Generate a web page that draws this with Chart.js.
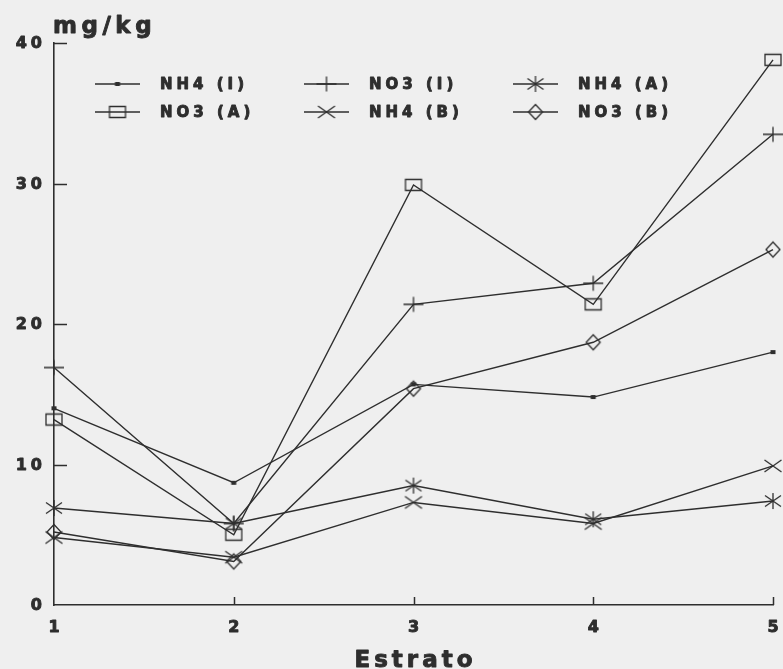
<!DOCTYPE html>
<html>
<head>
<meta charset="utf-8">
<script src="https://cdn.jsdelivr.net/npm/chart.js@4"></script>
<style>
  html, body { margin: 0; padding: 0; background: #efefef; }
  canvas { display: block; }
</style>
</head>
<body>
<canvas id="chart" width="783" height="669"></canvas>
<script>
// estrato on x, mg/kg on y
const estrato = ['1', '2', '3', '4', '5']
const yTicks = [0, 10, 20, 30, 40]

const nh4I = [14.0, 8.7, 15.7, 14.8, 18.0]
const no3I = [16.9, 5.8, 21.4, 22.9, 33.5]
const nh4A = [6.9, 5.8, 8.5, 6.1, 7.4]
const no3A = [13.2, 5.0, 29.9, 21.4, 38.8]
const nh4B = [4.8, 3.4, 7.3, 5.8, 9.9]
const no3B = [5.2, 3.1, 15.4, 18.7, 25.3]

const seriesNames = ['NH4 (I)', 'NO3 (I)', 'NH4 (A)', 'NO3 (A)', 'NH4 (B)', 'NO3 (B)']
const seriesData = [nh4I, no3I, nh4A, no3A, nh4B, no3B]
const seriesMarks = ['dot', 'plus', 'aster', 'square', 'cross', 'diamond']

const INK = '#2e2e2e'
const BG = '#efefef'

// little marker images, drawn by hand so they look like the old plotter symbols
function makeMarker(type) {
  const c = document.createElement('canvas')
  c.width = 24
  c.height = 24
  const g = c.getContext('2d')
  g.strokeStyle = INK
  g.fillStyle = INK
  g.lineWidth = 1.3
  const m = 12
  g.beginPath()
  if (type === 'dot') {
    g.fillRect(m - 2.5, m - 2, 5, 4)
  } else if (type === 'plus') {
    g.moveTo(m - 10, m); g.lineTo(m + 10, m)
    g.moveTo(m, m - 7.5); g.lineTo(m, m + 7.5)
  } else if (type === 'aster') {
    g.moveTo(m, m - 8); g.lineTo(m, m + 8)
    g.moveTo(m - 8, m - 5.5); g.lineTo(m + 8, m + 5.5)
    g.moveTo(m - 8, m + 5.5); g.lineTo(m + 8, m - 5.5)
  } else if (type === 'square') {
    g.rect(m - 8, m - 5.5, 16, 11)
  } else if (type === 'cross') {
    g.moveTo(m - 8.5, m - 6); g.lineTo(m + 8.5, m + 6)
    g.moveTo(m - 8.5, m + 6); g.lineTo(m + 8.5, m - 6)
  } else if (type === 'diamond') {
    g.moveTo(m, m - 7.5); g.lineTo(m + 7, m); g.lineTo(m, m + 7.5); g.lineTo(m - 7, m); g.closePath()
  }
  g.stroke()
  return c
}

const markers = seriesMarks.map(makeMarker)

// heavy, spaced text like the plotter font
function spacedText(ctx, text, x, y, font, spacing, align, baseline) {
  ctx.save()
  ctx.font = font
  ctx.letterSpacing = spacing + 'px'
  ctx.fillStyle = INK
  ctx.strokeStyle = INK
  ctx.lineWidth = 0.9
  ctx.lineJoin = 'round'
  ctx.textBaseline = baseline
  let w = ctx.measureText(text).width - spacing
  let sx = x
  if (align === 'center') sx = x - w / 2
  if (align === 'right') sx = x - w
  ctx.textAlign = 'left'
  ctx.fillText(text, sx, y)
  ctx.strokeText(text, sx, y)
  ctx.restore()
}

const decorPlugin = {
  id: 'decor',
  beforeDraw(chart) {
    const ctx = chart.ctx
    ctx.save()
    ctx.fillStyle = BG
    ctx.fillRect(0, 0, chart.width, chart.height)
    ctx.restore()
  },
  afterDraw(chart) {
    const ctx = chart.ctx
    const area = chart.chartArea
    const xs = chart.scales.x
    const ys = chart.scales.y

    // inward tick marks
    ctx.save()
    ctx.strokeStyle = INK
    ctx.lineWidth = 1.5
    ctx.beginPath()
    yTicks.slice(1).forEach(v => {
      const py = Math.round(ys.getPixelForValue(v)) + 0.5
      ctx.moveTo(area.left, py)
      ctx.lineTo(area.left + 13, py)
    })
    estrato.slice(1).forEach((lab, i) => {
      const px = Math.round(xs.getPixelForValue(i + 1)) + 0.5
      ctx.moveTo(px, area.bottom)
      ctx.lineTo(px, area.bottom - 8)
    })
    ctx.stroke()
    ctx.restore()

    // tick labels
    const tickFont = 'bold 16px "DejaVu Sans"'
    yTicks.forEach(v => {
      spacedText(ctx, String(v), area.left - 12, ys.getPixelForValue(v) + 1, tickFont, 4, 'right', 'middle')
    })
    estrato.forEach((lab, i) => {
      spacedText(ctx, lab, xs.getPixelForValue(i), 628, tickFont, 4, 'center', 'middle')
    })

    // axis titles
    spacedText(ctx, 'mg/kg', 53, 33, 'bold 23px "DejaVu Sans"', 4.5, 'left', 'alphabetic')
    spacedText(ctx, 'Estrato', (area.left + area.right) / 2, 667, 'bold 23px "DejaVu Sans"', 4, 'center', 'alphabetic')

    // legend, 3 columns x 2 rows inside the plot
    const colText = [160, 369, 578]
    const rowY = [84, 112]
    chart.data.datasets.forEach((ds, i) => {
      const col = i % 3
      const row = Math.floor(i / 3)
      const tx = colText[col]
      const y = rowY[row]
      ctx.save()
      ctx.strokeStyle = INK
      ctx.lineWidth = 1.4
      ctx.beginPath()
      ctx.moveTo(tx - 65, y)
      ctx.lineTo(tx - 20, y)
      ctx.stroke()
      const mk = markers[i]
      ctx.drawImage(mk, tx - 42.5 - mk.width / 2, y - mk.height / 2)
      ctx.restore()
      spacedText(ctx, ds.label, tx, y + 1, 'bold 15px "DejaVu Sans"', 4, 'left', 'middle')
    })
  }
}

const datasets = seriesNames.map((name, i) => ({
  label: name,
  data: seriesData[i],
  borderColor: INK,
  backgroundColor: 'transparent',
  borderWidth: 1.4,
  pointStyle: markers[i],
  pointRadius: 8,
  pointHoverRadius: 8,
  tension: 0,
  fill: false,
  clip: false
}))

new Chart(document.getElementById('chart').getContext('2d'), {
  type: 'line',
  data: { labels: estrato, datasets: datasets },
  options: {
    responsive: false,
    animation: false,
    layout: { padding: { top: 43, right: 10, left: 0, bottom: 0 } },
    plugins: {
      legend: { display: false },
      tooltip: { enabled: false }
    },
    scales: {
      x: {
        type: 'category',
        offset: false,
        grid: { display: true, drawOnChartArea: false, drawTicks: false, color: 'transparent' },
        border: { display: true, color: INK, width: 1.6 },
        ticks: { display: false },
        afterFit: (s) => { s.height = 64 }
      },
      y: {
        min: 0,
        max: 40,
        grid: { display: true, drawOnChartArea: false, drawTicks: false, color: 'transparent' },
        border: { display: true, color: INK, width: 1.6 },
        ticks: { display: false, stepSize: 10 },
        afterFit: (s) => { s.width = 54 }
      }
    }
  },
  plugins: [decorPlugin]
})
</script>
</body>
</html>
